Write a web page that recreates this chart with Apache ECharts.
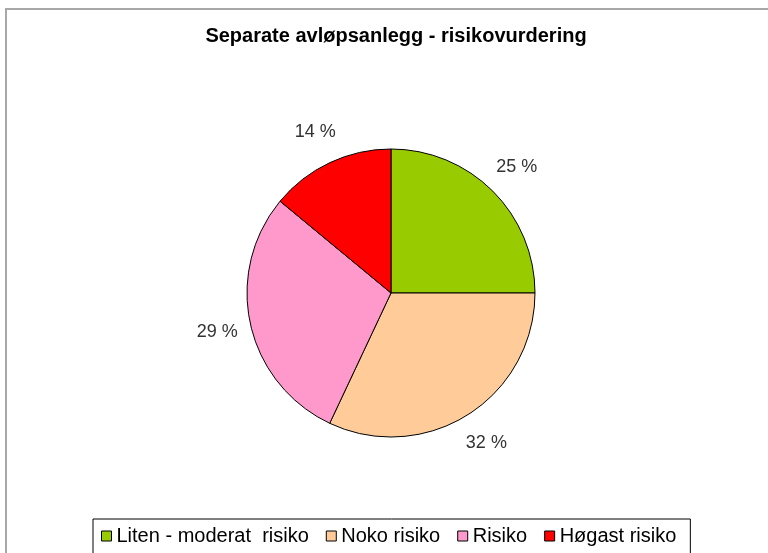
<!DOCTYPE html>
<html>
<head>
<meta charset="utf-8">
<script src="https://cdn.jsdelivr.net/npm/echarts@6/dist/echarts.min.js"></script>
<style>
html,body{margin:0;padding:0;background:#fff;}
#c{width:768px;height:553px;}
</style>
</head>
<body>
<div id="c"></div>
<script>
const titleText = 'Separate avløpsanlegg - risikovurdering';
const categories = ['Liten - moderat  risiko', 'Noko risiko', 'Risiko', 'Høgast risiko'];
const values = [25, 32, 29, 14];
const colors = ['#99CC00', '#FFCC99', '#FF99CC', '#FF0000'];

const font = '"Liberation Sans", Arial, sans-serif';
const pieData = categories.map((c, i) => ({ name: c, value: values[i], itemStyle: { color: colors[i] } }));
const labelData = categories.map((c, i) => ({ name: c, value: values[i] }));

const chart = echarts.init(document.getElementById('c'), null, { renderer: 'canvas' });
chart.setOption({
  backgroundColor: '#fff',
  animation: false,
  title: {
    text: titleText,
    left: 391,
    textAlign: 'center',
    top: 21,
    textStyle: { fontFamily: font, fontWeight: 'bold', fontSize: 20, color: '#000' }
  },
  graphic: [{
    type: 'rect', silent: true, z: -1,
    shape: { x: 6, y: 9, width: 820, height: 620 },
    style: { fill: 'none', stroke: '#a8a8a8', lineWidth: 2 }
  }],
  legend: {
    data: categories,
    left: 93,
    top: 519,
    padding: [7, 14, 20, 8],
    borderColor: '#000',
    borderWidth: 1,
    itemWidth: 10,
    itemHeight: 10,
    itemGap: 17,
    icon: 'rect',
    selectedMode: false,
    itemStyle: { borderColor: '#000', borderWidth: 1 },
    textStyle: { fontFamily: font, fontSize: 20, color: '#000' }
  },
  series: [{
    type: 'pie',
    center: [391, 293],
    radius: [0, 144],
    startAngle: 90,
    clockwise: true,
    silent: true,
    label: { show: false },
    labelLine: { show: false },
    itemStyle: { borderColor: '#000', borderWidth: 1 },
    data: pieData
  }, {
    type: 'pie',
    center: [391, 293],
    radius: [168, 182],
    startAngle: 90,
    clockwise: true,
    silent: true,
    itemStyle: { color: 'rgba(0,0,0,0)' },
    label: {
      show: true,
      position: 'inside',
      formatter: p => p.value + ' %',
      fontFamily: font,
      fontSize: 18,
      color: '#333'
    },
    labelLine: { show: false },
    data: labelData
  }]
});
</script>
</body>
</html>
